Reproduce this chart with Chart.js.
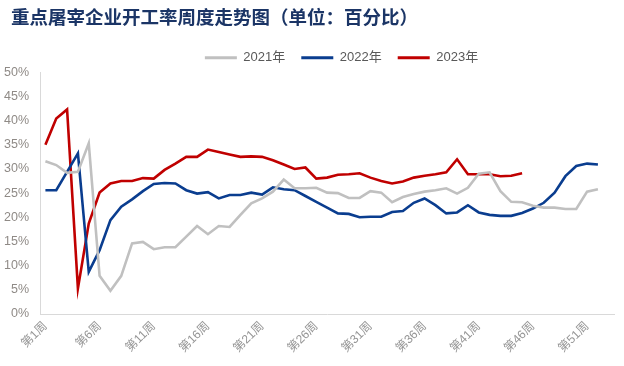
<!DOCTYPE html>
<html><head><meta charset="utf-8">
<script src="https://cdn.jsdelivr.net/npm/chart.js@4/dist/chart.umd.min.js"></script>
<style>html,body{margin:0;padding:0;background:#fff;}#wrap{width:624px;height:366px;}</style>
</head><body><div id="wrap"><canvas id="c" width="624" height="366"></canvas></div>
<script>
const weeks = ['第1周','第2周','第3周','第4周','第5周','第6周','第7周','第8周','第9周','第10周',
  '第11周','第12周','第13周','第14周','第15周','第16周','第17周','第18周','第19周','第20周',
  '第21周','第22周','第23周','第24周','第25周','第26周','第27周','第28周','第29周','第30周',
  '第31周','第32周','第33周','第34周','第35周','第36周','第37周','第38周','第39周','第40周',
  '第41周','第42周','第43周','第44周','第45周','第46周','第47周','第48周','第49周','第50周',
  '第51周','第52周','第53周'];
const seriesNames = ['2021年','2022年','2023年'];
const rate2021 = [31.6,30.8,29.2,29.4,35.3,7.9,4.8,7.9,14.6,14.9,
  13.4,13.8,13.8,16.0,18.2,16.5,18.2,18.0,20.5,22.9,
  23.9,25.3,27.8,26.0,26.0,26.1,25.1,25.0,24.0,24.0,
  25.4,25.1,23.1,24.2,24.8,25.3,25.6,26.0,24.9,26.1,
  29.0,29.3,25.4,23.2,23.1,22.4,22.0,22.0,21.7,21.7,
  25.3,25.8];
const rate2022 = [25.6,25.6,29.4,33.2,8.7,13.2,19.4,22.2,23.7,25.4,
  26.9,27.1,27.0,25.6,24.9,25.2,23.9,24.6,24.6,25.1,
  24.7,26.2,25.8,25.6,24.4,23.2,22.0,20.8,20.7,20.0,
  20.1,20.1,21.1,21.3,23.0,23.9,22.5,20.8,21.0,22.5,
  21.0,20.5,20.3,20.3,20.9,21.8,23.0,25.1,28.5,30.6,
  31.1,30.9];
const rate2023 = [35.0,40.4,42.3,5.3,18.7,25.1,27.0,27.5,27.5,28.1,
  28.0,29.8,31.1,32.5,32.5,34.0,33.5,33.0,32.5,32.6,
  32.5,31.8,30.9,30.0,30.3,28.0,28.2,28.8,28.9,29.1,
  28.2,27.5,27.0,27.4,28.2,28.6,28.9,29.3,32.0,28.9,
  28.9,28.9,28.5,28.6,29.1];
const seriesColors = ['#C0C0C0','#0A3D8F','#C00000'];
const yMin = 0, yMax = 50, yStep = 5;
const titleText = '重点屠宰企业开工率周度走势图（单位：百分比）';

const tweak = {
  id: 'tweak',
  beforeLayout(chart) {
    const lg = chart.legend;
    if (lg && !lg._trimmed) {
      const f = lg.fit;
      lg.fit = function () { f.call(this); this.height -= 2; };
      lg._trimmed = true;
    }
  },
  afterLayout(chart) {
    if (chart.legend) { chart.legend.left += 33; chart.legend.right += 33; }
    if (chart.titleBlock) { chart.titleBlock.left += 11; chart.titleBlock.right += 11; }
  }
};

const mk = (i, data) => ({
  label: seriesNames[i], data: data,
  borderColor: seriesColors[i], backgroundColor: seriesColors[i],
  borderWidth: 2.6, pointRadius: 0, tension: 0, fill: false
});

new Chart(document.getElementById('c'), {
  type: 'line',
  data: { labels: weeks, datasets: [mk(0, rate2021), mk(1, rate2022), mk(2, rate2023)] },
  plugins: [tweak],
  options: {
    responsive: false, animation: false,
    layout: { padding: { left: 0, right: 7, top: 0, bottom: 0 } },
    plugins: {
      title: { display: true, text: titleText, align: 'start', color: '#1B3566',
        font: { family: '"Noto Sans CJK SC", sans-serif', size: 18.5, weight: 'bold', lineHeight: 1.2 },
        padding: { top: 6, bottom: 7 } },
      legend: { display: true, position: 'top', align: 'center',
        labels: { boxWidth: 32, boxHeight: 3, padding: 16, color: '#595959',
          font: { family: '"Liberation Sans", "Noto Sans CJK SC", sans-serif', size: 13 },
          generateLabels(chart) {
            return chart.data.datasets.map((d, i) => ({ text: d.label, fillStyle: d.borderColor,
              strokeStyle: d.borderColor, lineWidth: 0, hidden: false, datasetIndex: i, fontColor: '#595959' }));
          } } },
      tooltip: { enabled: false }
    },
    scales: {
      x: { type: 'category', offset: true,
        grid: { display: false, drawTicks: false },
        border: { display: true, color: '#D9D9D9', width: 1 },
        ticks: { autoSkip: false, maxRotation: 45, minRotation: 45, padding: 5, color: '#959595',
          font: { family: '"Liberation Sans", "Noto Sans CJK SC", sans-serif', size: 12 },
          callback: (v, i) => (i % 5 === 0 ? weeks[i] : '') },
        afterFit(s) { s.height = 52; } },
      y: { min: yMin, max: yMax,
        grid: { display: false, drawTicks: false },
        border: { display: true, color: '#D9D9D9', width: 1 },
        ticks: { stepSize: yStep, padding: 11, color: '#8F8A86',
          font: { family: '"Liberation Sans", sans-serif', size: 12.5 },
          callback: v => v + '%' },
        afterFit(s) { s.width = 40; } }
    }
  }
});
</script></body></html>
